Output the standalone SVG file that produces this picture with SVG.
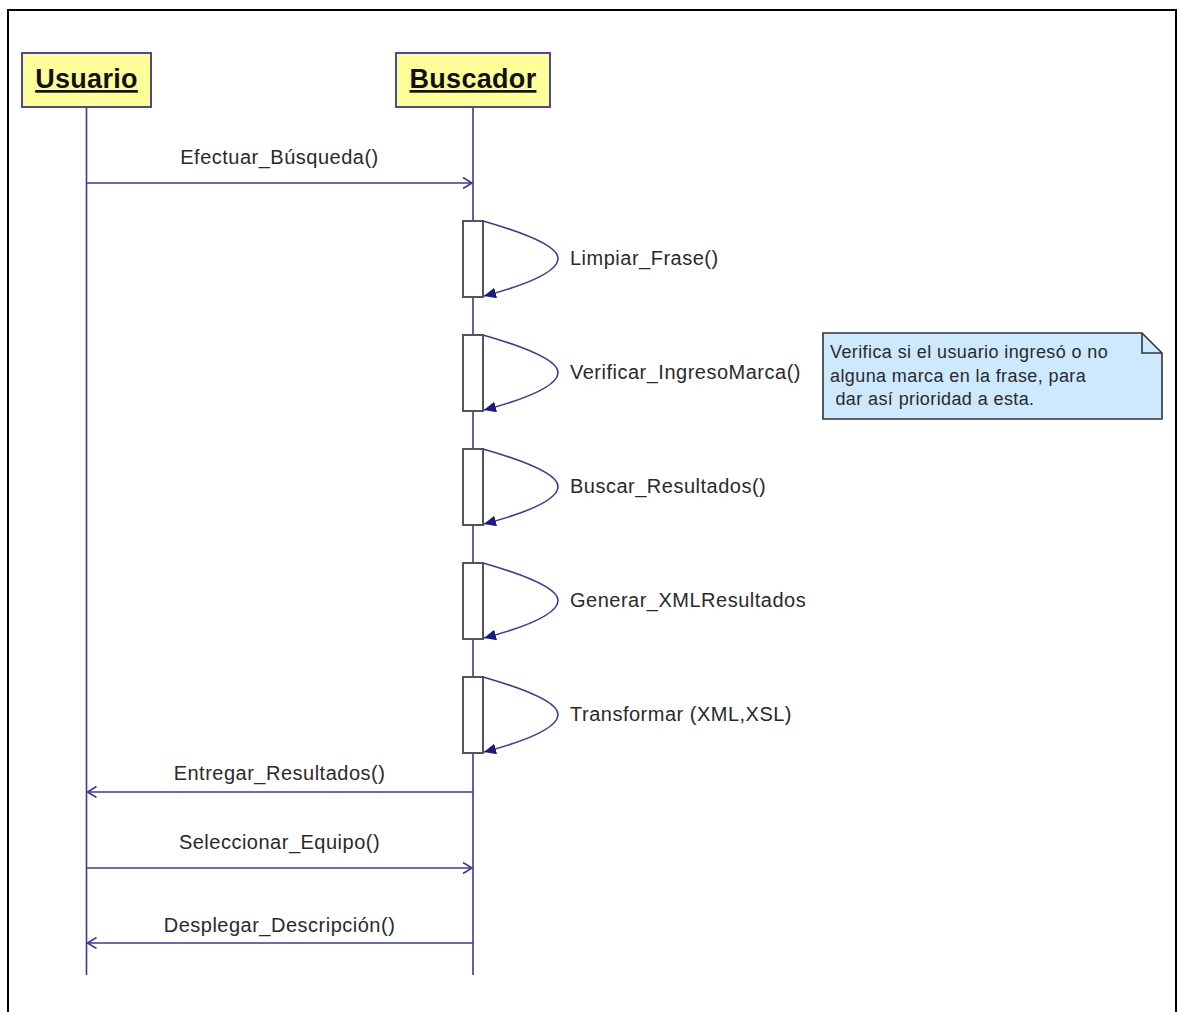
<svg xmlns="http://www.w3.org/2000/svg" width="1177" height="1012" viewBox="0 0 1177 1012">
<style>
.head{fill:#ffff99;stroke:#4a4a9a;stroke-width:2}
.htxt{font-family:"Liberation Sans",Arial,sans-serif;font-weight:bold;font-size:27px;fill:#111;text-anchor:middle;letter-spacing:0.3px;text-decoration:underline}
.life{stroke:#3a3a96;stroke-width:1.6;fill:none}
.msg{stroke:#3a3a96;stroke-width:1.6;fill:none}
.lbl{font-family:"Liberation Sans",Arial,sans-serif;font-size:20px;fill:#2a2a2a;letter-spacing:0.5px}
.act{fill:#fff;stroke:#555;stroke-width:2}
.self{stroke:#3a3a96;stroke-width:1.6;fill:none}
.note{fill:#cde9fd;stroke:#333;stroke-width:1.6}
.ntxt{font-family:"Liberation Sans",Arial,sans-serif;font-size:18px;fill:#2a2a2a;letter-spacing:0.4px}
</style>
<defs>
<marker id="open" markerWidth="14" markerHeight="14" refX="10" refY="6" orient="auto" markerUnits="userSpaceOnUse">
<path d="M1,0.5 L10,6 L1,11.5" fill="none" stroke="#3a3a96" stroke-width="1.6"/>
</marker>
<marker id="fill" markerWidth="14" markerHeight="14" refX="12" refY="5.5" orient="auto" markerUnits="userSpaceOnUse">
<path d="M0,0 L12,5.5 L0,11 Z" fill="#1a1a80"/>
</marker>
</defs>
<rect width="1177" height="1012" fill="#fff"/>
<path d="M8,1012 V10 H1176 V1012" fill="none" stroke="#000" stroke-width="2"/>

<g id="connectors">
<line class="life" x1="86.5" y1="107" x2="86.5" y2="975"/>
<line class="life" x1="473" y1="107" x2="473" y2="975"/>
<line class="msg" x1="86.5" y1="183" x2="472" y2="183" marker-end="url(#open)"/>
<text class="lbl" x="279.5" y="164" text-anchor="middle">Efectuar_Búsqueda()</text>
<line class="msg" x1="473" y1="792" x2="87.5" y2="792" marker-end="url(#open)"/>
<text class="lbl" x="279.5" y="780" text-anchor="middle">Entregar_Resultados()</text>
<line class="msg" x1="86.5" y1="868" x2="472" y2="868" marker-end="url(#open)"/>
<text class="lbl" x="279.5" y="849" text-anchor="middle">Seleccionar_Equipo()</text>
<line class="msg" x1="473" y1="943" x2="87.5" y2="943" marker-end="url(#open)"/>
<text class="lbl" x="279.5" y="932" text-anchor="middle">Desplegar_Descripción()</text>
</g>

<g id="usuario">
<rect class="head" x="22" y="53" width="129" height="54"/>
<text class="htxt" x="86.5" y="88">Usuario</text>
</g>
<g id="buscador">
<rect class="head" x="396" y="53" width="154" height="54"/>
<text class="htxt" x="473" y="88">Buscador</text>
</g>

<g id="act1">
<rect class="act" x="463" y="221" width="20" height="76"/>
<path class="self" d="M483,221 C525,233 559,246 558,259 C557,273 522,286 484,296" marker-end="url(#fill)"/>
<text class="lbl" x="570" y="265">Limpiar_Frase()</text>
</g>
<g id="act2">
<rect class="act" x="463" y="335" width="20" height="76"/>
<path class="self" d="M483,335 C525,347 559,360 558,373 C557,387 522,400 484,410" marker-end="url(#fill)"/>
<text class="lbl" x="570" y="379">Verificar_IngresoMarca()</text>
</g>
<g id="act3">
<rect class="act" x="463" y="449" width="20" height="76"/>
<path class="self" d="M483,449 C525,461 559,474 558,487 C557,501 522,514 484,524" marker-end="url(#fill)"/>
<text class="lbl" x="570" y="493">Buscar_Resultados()</text>
</g>
<g id="act4">
<rect class="act" x="463" y="563" width="20" height="76"/>
<path class="self" d="M483,563 C525,575 559,588 558,601 C557,615 522,628 484,638" marker-end="url(#fill)"/>
<text class="lbl" x="570" y="607">Generar_XMLResultados</text>
</g>
<g id="act5">
<rect class="act" x="463" y="677" width="20" height="76"/>
<path class="self" d="M483,677 C525,689 559,702 558,715 C557,729 522,742 484,752" marker-end="url(#fill)"/>
<text class="lbl" x="570" y="721">Transformar (XML,XSL)</text>
</g>

<g id="note">
<path class="note" d="M823,333 H1142 L1162,353 V419 H823 Z"/>
<path d="M1142,333 V353 H1162" fill="none" stroke="#333" stroke-width="1.6"/>
<text class="ntxt" x="830" y="358">Verifica si el usuario ingresó o no</text>
<text class="ntxt" x="830" y="382">alguna marca en la frase, para</text>
<text class="ntxt" x="830" y="405" xml:space="preserve"> dar así prioridad a esta.</text>
</g>
</svg>
